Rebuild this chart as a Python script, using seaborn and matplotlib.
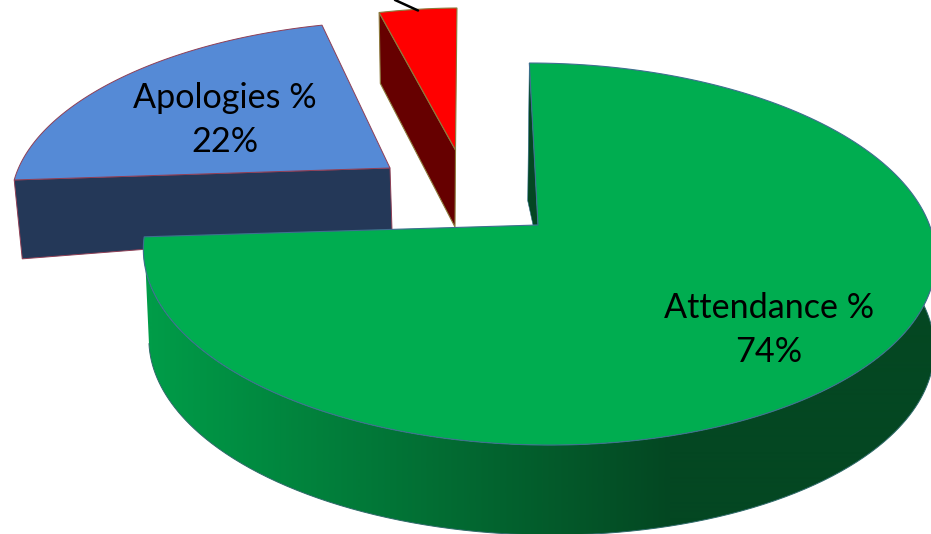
import numpy as np
import matplotlib
matplotlib.use("Agg")
import matplotlib.pyplot as plt
from matplotlib.patches import Polygon
import seaborn as sns

categories = ['Attendance %', 'Apologies %', 'Other %']
values = [74, 22, 4]
label_text = ['Attendance %\n74%', 'Apologies %\n22%', None]

sns.set_theme(style='white')
plt.rcParams['font.family'] = ['Lato', 'DejaVu Sans']

K = 0.152  # perspective: the back of the pie is smaller


def project(t, view):
    # t in degrees clockwise from 12 o'clock
    x0, y0, a, b, c, e = view
    u = np.sin(np.radians(t))
    v = np.cos(np.radians(t))
    s = 1 / (1 + K * v)
    return x0 + (a * u + c * v) * s, y0 - (b * v + e * u) * s


def arc(t0, t1, view, n=200):
    return project(np.linspace(t0, t1, n), view)


def face(t0, t1, view):
    xs, ys = arc(t0, t1, view)
    return np.r_[view[0], xs], np.r_[view[1], ys]


def wall(t, top, bottom):
    x1, y1 = project(t, top)
    x2, y2 = project(t, bottom)
    return [top[0], x1, x2, bottom[0]], [top[1], y1, y2, bottom[1]]


# slice start / end angles come from the values
ends = np.cumsum(values) / np.sum(values) * 360
starts = np.r_[0, ends[:-1]]

green_top = (538, 225, 391.5, 186.6, -10, 0)
green_bot = (540, 315, 388, 186.6, -10, 0)
blue_top = (390, 168, 372, 169.5, 15, 1.2)
blue_bot = (392, 230, 366, 169, 15, 18)
red_top = (455.5, 150, 359, 163.6, 1.7, 3)
red_bot = (455, 227, 351, 170, 1.7, 0)

fig = plt.figure(figsize=(9.31, 5.34), dpi=100)
ax = fig.add_axes([0, 0, 1, 1])

# apologies slice
blue_edge = '#8f3f55'
ax.fill(*wall(ends[0], blue_top, blue_bot), fc='#243858', ec=blue_edge, lw=0.7, zorder=1)
ax.fill(*face(starts[1], ends[1], blue_top), fc='#558ad6', ec=blue_edge, lw=0.7, zorder=2)

# small red slice
red_edge = '#8c7a3c'
ax.fill(*wall(starts[2], red_top, red_bot), fc='#660000', ec=red_edge, lw=0.8, zorder=1)
ax.fill(*face(starts[2], ends[2], red_top), fc='#ff0000', ec=red_edge, lw=0.8, zorder=2)
ax.plot([395, 418], [0, 10.5], color='black', lw=1.8, zorder=3)

# attendance slice, curved wall shaded left to right, flat dark past x=670
shades = np.array(sns.blend_palette(['#009c48', '#044722'], 256))
tx, ty = arc(85, ends[0], green_top, 420)
bx, by = arc(85, ends[0] - 5, green_bot, 420)
outline = np.c_[np.r_[tx, bx[::-1]], np.r_[ty, by[::-1]]]
shape = Polygon(outline, closed=True, transform=ax.transData, fc='none', ec='none')
ax.add_patch(shape)
columns = np.arange(130, 940)
ramp = shades[(np.clip((columns - 150) / 520, 0, 1) * 255).astype(int)][np.newaxis, :, :]
img = ax.imshow(ramp, extent=(130, 940, 534, 0), aspect='auto', interpolation='bilinear', zorder=4)
img.set_clip_path(shape)
ax.plot(bx, by, color='#2f6a6a', lw=0.7, zorder=4.5)

# inner wall seen next to the first cut
rx, ry = project(starts[0], green_top)
px, py = green_top[0] + (rx - green_top[0]) * 0.15, green_top[1] + (ry - green_top[1]) * 0.15
ax.fill([rx, px - 9, green_top[0] - 5, green_top[0]], [ry, py, green_top[1], green_top[1]],
        fc='#044722', ec='#2f6a8a', lw=0.4, zorder=4)

ax.fill(*face(starts[0], ends[0], green_top), fc='#00ad50', ec='#3f6f8f', lw=0.8, zorder=5)

ax.text(769, 308, label_text[0].split('\n')[0], ha='center', va='center', fontsize=24.6, color='black', zorder=6)
ax.text(769, 352, label_text[0].split('\n')[1], ha='center', va='center', fontsize=24.6, color='black', zorder=6)
ax.text(225, 98, label_text[1].split('\n')[0], ha='center', va='center', fontsize=24.6, color='black', zorder=6)
ax.text(225, 142, label_text[1].split('\n')[1], ha='center', va='center', fontsize=24.6, color='black', zorder=6)

ax.set_xlim(0, 931)
ax.set_ylim(534, 0)
ax.axis('off')

fig.savefig('out.png', dpi=100)
